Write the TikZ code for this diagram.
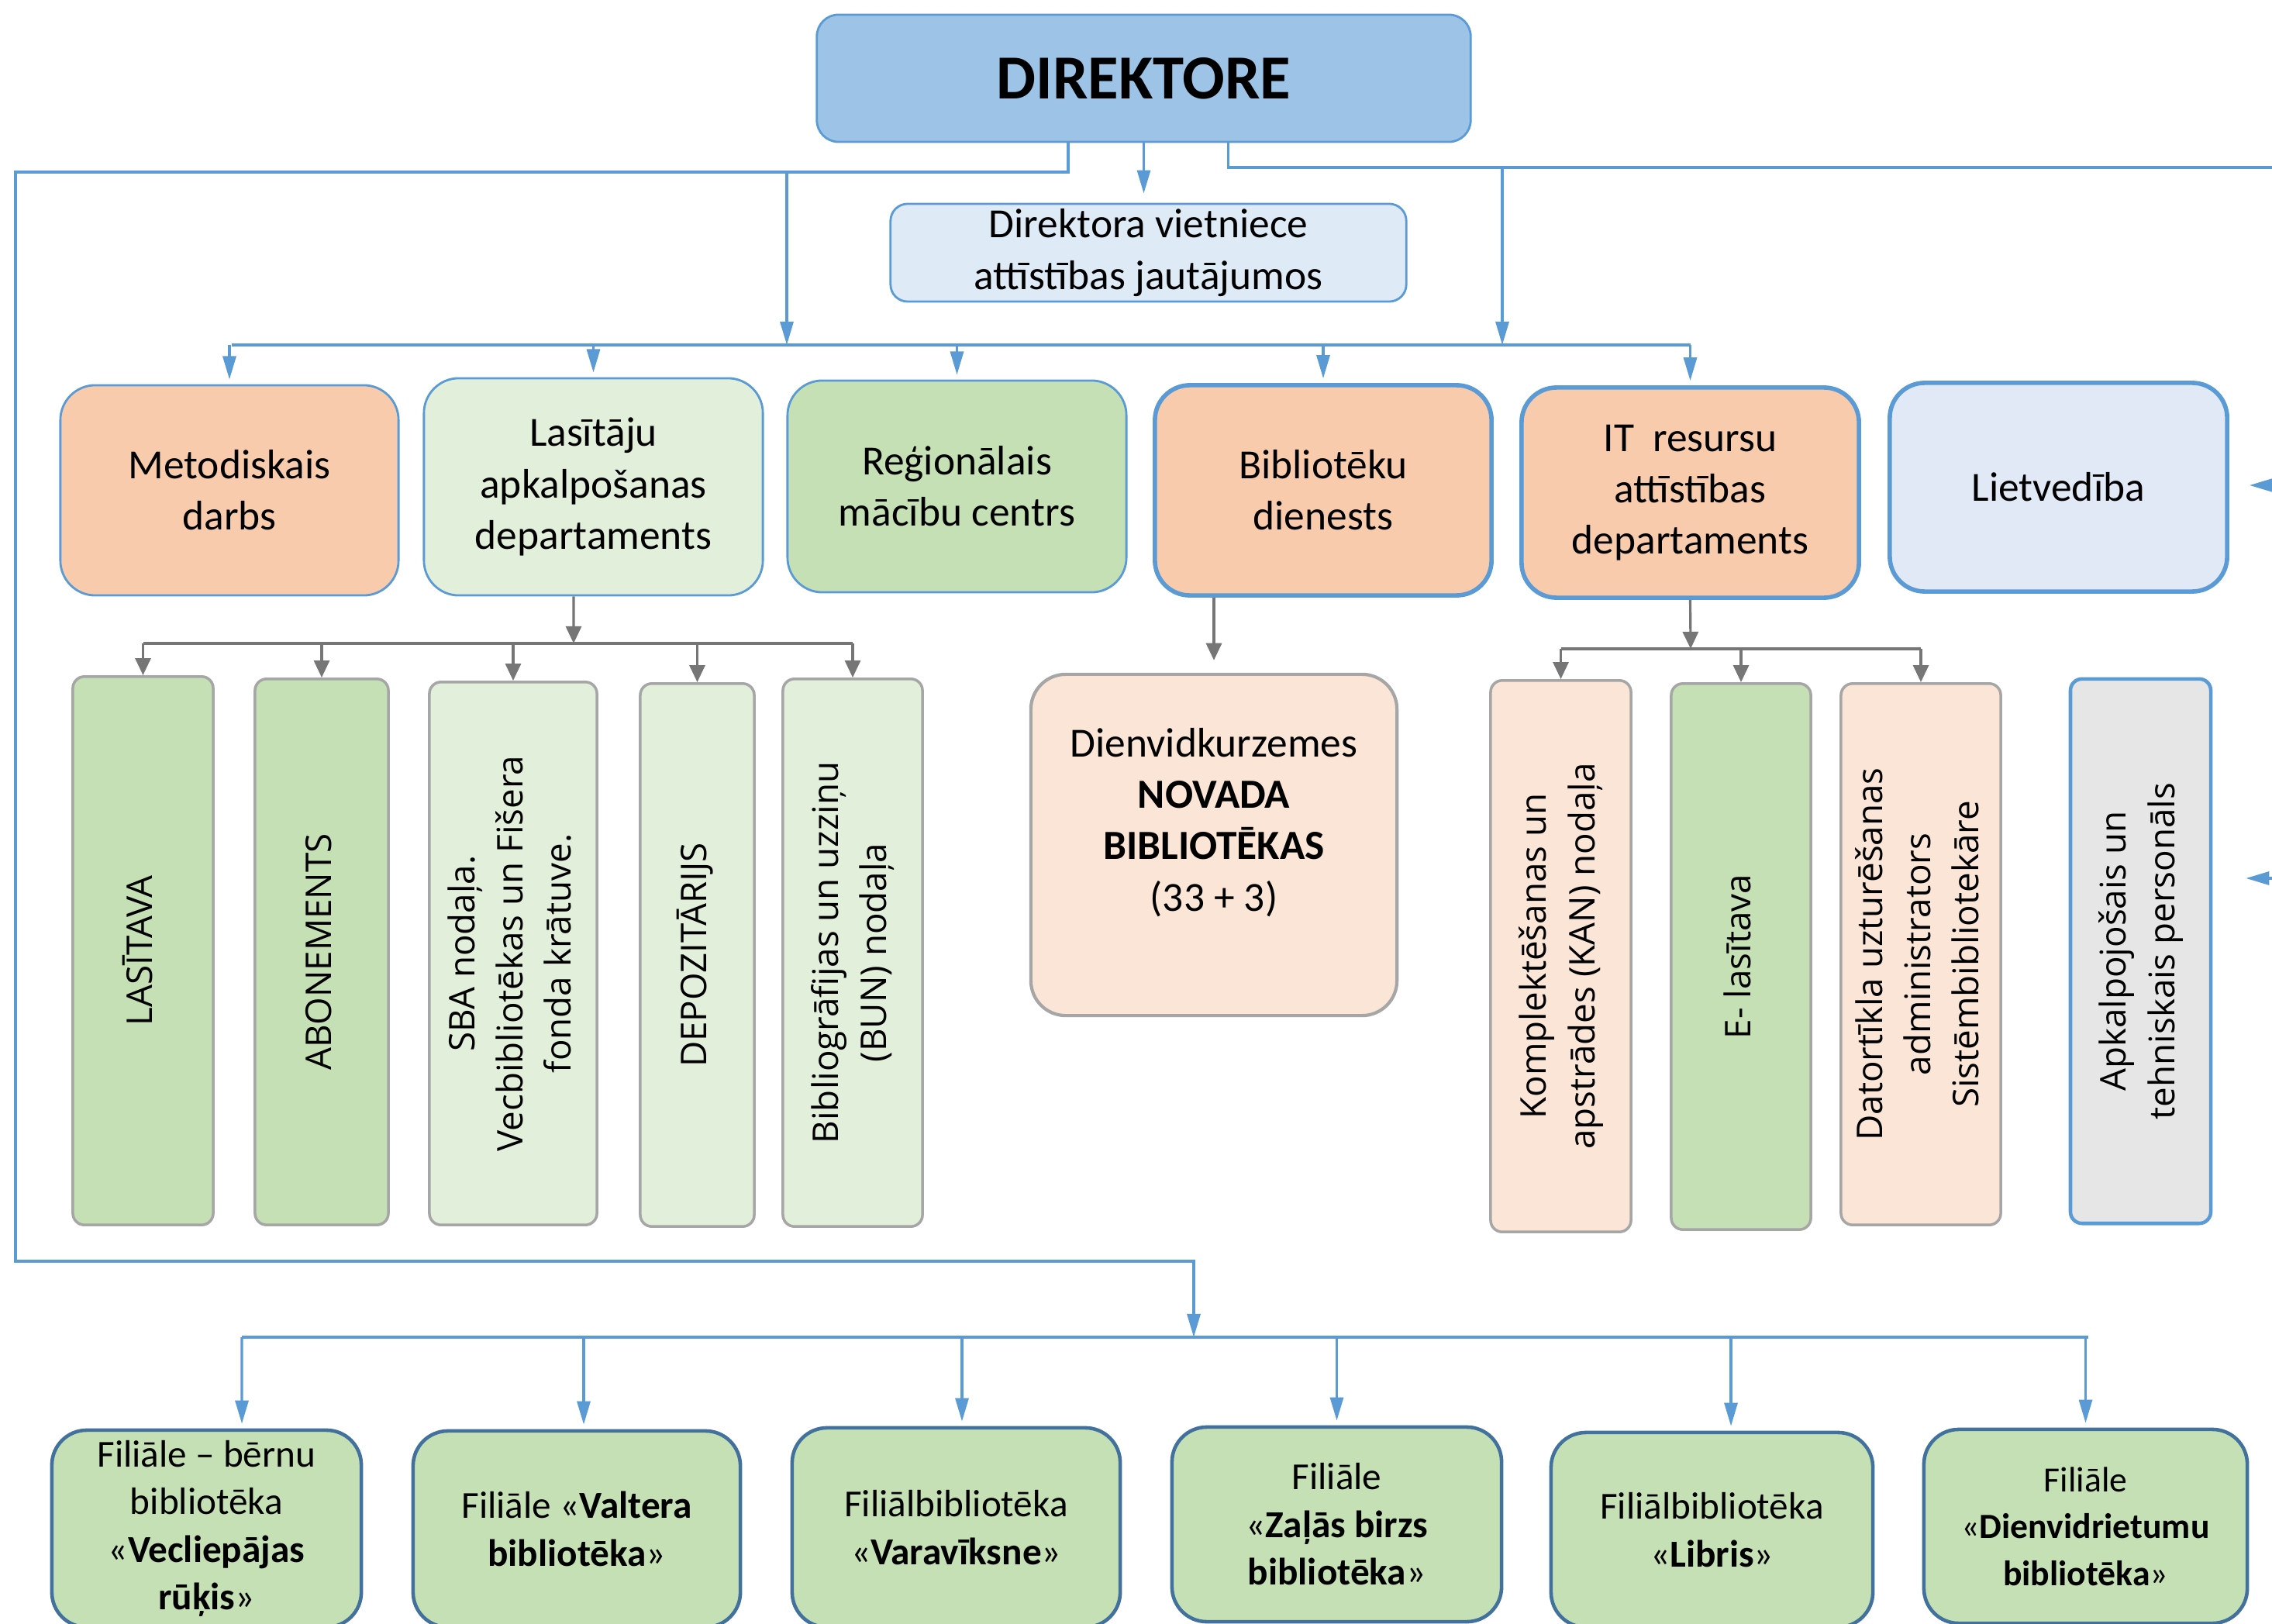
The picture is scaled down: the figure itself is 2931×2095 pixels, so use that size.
\documentclass[tikz,border=0pt]{standalone}
\usepackage{fontspec}
\setmainfont{Carlito}
\newfontfamily\osans{Open Sans}
\usepackage{graphicx}
\usetikzlibrary{arrows.meta}
\definecolor{lineblue}{HTML}{5B9BD5}
\definecolor{darkblue}{HTML}{41719C}
\definecolor{linegray}{HTML}{767676}
\definecolor{boxgray}{HTML}{A6A6A6}
\definecolor{dirfill}{HTML}{9DC3E6}
\definecolor{vicefill}{HTML}{DEEBF7}
\definecolor{salmon}{HTML}{F8CBAD}
\definecolor{peach}{HTML}{FBE5D6}
\definecolor{lgreen}{HTML}{E2EFDA}
\definecolor{mgreen}{HTML}{C5E0B4}
\definecolor{lavender}{HTML}{E2E9F6}
\definecolor{lgray}{HTML}{E6E6E6}
\newcommand\hfont{\fontsize{15.2}{18.8}\selectfont}
\newcommand\bfontsz{\fontsize{14}{17.5}\selectfont}
\newcommand\vt[1]{\rotatebox{90}{\osans\fontsize{13}{17.7}\selectfont\begin{tabular}{@{}c@{}}#1\end{tabular}}}
\tikzset{
  bl/.style={draw=lineblue, line width=0.9pt},
  blarrow/.style={bl, -{Triangle[length=0.3cm,width=0.17cm]}},
  gl/.style={draw=linegray, line width=0.9pt},
  glarrow/.style={gl, -{Triangle[length=0.22cm,width=0.2cm]}},
  hbox/.style={rounded corners=0.45cm, inner sep=0pt, align=center, font=\hfont, draw=lineblue, line width=0.8pt},
  thickbox/.style={hbox, line width=1.6pt},
  vbox/.style={rounded corners=0.15cm, inner sep=0pt, align=center, draw=boxgray, line width=1pt},
  fbox/.style={rounded corners=0.45cm, inner sep=0pt, align=center, font=\bfontsz, draw=darkblue, line width=1.3pt, fill=mgreen}
}
\begin{document}
\begin{tikzpicture}[x=0.01cm,y=-0.01cm]
\useasboundingbox (0,0) rectangle (2931,2095);
\fill[white] (0,0) rectangle (2931,2095);

% top
\node[hbox, rounded corners=0.28cm, fill=dirfill, minimum width=8.43cm, minimum height=1.64cm, font=\fontsize{23}{28}\selectfont\bfseries] (dir) at (1475.5,101) {DIREKTORE};
\node[hbox, rounded corners=0.22cm, fill=vicefill, minimum width=6.65cm, minimum height=1.26cm] (vice) at (1481.5,326) {Direktora vietniece\\attīstības jautājumos};

% row 2
\node[hbox, fill=salmon, minimum width=4.36cm, minimum height=2.71cm] (met) at (296,632.5) {Metodiskais\\darbs};
\node[hbox, fill=lgreen, minimum width=4.37cm, minimum height=2.80cm] (las) at (765.5,628) {Lasītāju\\apkalpošanas\\departaments};
\node[hbox, fill=mgreen, minimum width=4.37cm, minimum height=2.73cm] (reg) at (1234.5,627.5) {Reģionālais\\mācību centrs};
\node[thickbox, fill=salmon, minimum width=4.34cm, minimum height=2.71cm] (bib) at (1707,632.5) {Bibliotēku\\dienests};
\node[thickbox, fill=salmon, minimum width=4.35cm, minimum height=2.71cm] (itr) at (2180.5,635.5) {IT\ \ resursu\\attīstības\\departaments};
\node[thickbox, fill=lavender, minimum width=4.35cm, minimum height=2.69cm] (liet) at (2655.5,628.5) {Lietvedība};

% row 3 left
\node[vbox, fill=mgreen, minimum width=1.81cm, minimum height=7.07cm] (lasit) at (184.5,1226.5) {\vt{LASĪTAVA}};
\node[vbox, fill=mgreen, minimum width=1.72cm, minimum height=7.04cm] (abon) at (415,1228) {\vt{ABONEMENTS}};
\node[vbox, fill=lgreen, minimum width=2.16cm, minimum height=7.00cm] (sba) at (662,1230) {\vt{SBA nodaļa.\\Vecbibliotēkas un Fišera\\fonda krātuve.}};
\node[vbox, fill=lgreen, minimum width=1.47cm, minimum height=7.00cm] (depo) at (899.5,1232) {\vt{DEPOZITĀRIJS}};
\node[vbox, fill=lgreen, minimum width=1.80cm, minimum height=7.06cm] (bun) at (1100,1229) {\vt{Bibliogrāfijas un uzziņu\\(BUN) nodaļa}};

% Dienvidkurzemes
\node[vbox, rounded corners=0.45cm, line width=1.2pt, fill=peach, minimum width=4.72cm, minimum height=4.40cm] (dk) at (1566,1090) {};
\node[align=center, font=\hfont, inner sep=0pt] (dkt) at (1566,1061) {Dienvidkurzemes\\\textbf{NOVADA}\\\textbf{BIBLIOTĒKAS}\\(33 + 3)};

% row 3 right
\node[vbox, fill=peach, minimum width=1.81cm, minimum height=7.11cm] (kom) at (2013.5,1233.5) {\vt{Komplektēšanas un\\apstrādes (KAN) nodaļa}};
\node[vbox, fill=mgreen, minimum width=1.80cm, minimum height=7.04cm] (elas) at (2246,1234) {\vt{E- lasītava}};
\node[vbox, fill=peach, minimum width=2.06cm, minimum height=6.98cm] (dat) at (2478,1231) {\vt{Datortīkla uzturēšanas\\administrators\\Sistēmbibliotekāre}};
\node[vbox, draw=lineblue, line width=1.3pt, fill=lgray, minimum width=1.81cm, minimum height=7.02cm] (apk) at (2761.5,1227) {\vt{Apkalpojošais un\\tehniskais personāls}};

% bottom row
\node[fbox, minimum width=3.99cm, minimum height=2.54cm] (f1) at (266.5,1972) {Filiāle – bērnu\\bibliotēka\\«\textbf{Vecliepājas}\\\textbf{rūķis}»};
\node[fbox, minimum width=4.22cm, minimum height=2.53cm] (f2) at (744,1972.5) {Filiāle «\textbf{Valtera}\\\textbf{bibliotēka}»};
\node[fbox, minimum width=4.23cm, minimum height=2.57cm] (f3) at (1233.5,1970.5) {Filiālbibliotēka\\«\textbf{Varavīksne}»};
\node[fbox, minimum width=4.25cm, minimum height=2.51cm] (f4) at (1724.5,1966.5) {Filiāle\\«\textbf{Zaļās birzs}\\\textbf{bibliotēka}»};
\node[fbox, minimum width=4.15cm, minimum height=2.51cm] (f5) at (2208.5,1973.5) {Filiālbibliotēka\\«\textbf{Libris}»};
\node[fbox, minimum width=4.17cm, minimum height=2.50cm, font=\fontsize{13}{17.2}\selectfont] (f6) at (2690.5,1969) {Filiāle\\«\textbf{Dienvidrietumu}\\\textbf{bibliotēka}»};

% ---- connectors ----
\coordinate (cl1) at (20,222);
\coordinate (cl2) at (20,1627);
\coordinate (cl3) at (1540,1627);
\coordinate (bbus) at (1540,1725);
\coordinate (jA) at (1015,222);
\coordinate (tA) at (1015,445);
\coordinate (cr) at (2931,216);
\coordinate (jC) at (1938,216);
\coordinate (tC) at (1938,445);
\coordinate (r2l) at (299,445);
\coordinate (r2r) at (2181,445);
\coordinate (re1) at (2931,626);
\coordinate (re2) at (2931,1133);
\coordinate (g1) at (740,830);
\coordinate (g2) at (2181,837);
\coordinate (bl1) at (312,1725);
\coordinate (br1) at (2694,1725);

\draw[blarrow] ([xshift=-0.975cm]dir.south) |- (cl1) -- (cl2) -- (cl3) -- (bbus);
\draw[blarrow] (jA) -- (tA);
\draw[blarrow, shorten >=0.12cm] (dir.south) -- (dir.south |- vice.north);
\draw[bl] ([xshift=1.085cm]dir.south) |- (cr);
\draw[blarrow] (jC) -- (tC);

\draw[bl] (r2l) -- (r2r);
\foreach \n in {met,las,reg,bib,itr}
  \draw[blarrow, shorten >=0.06cm] (\n.north |- r2l) -- (\n.north);

\draw[blarrow, shorten >=0.26cm] (re1) -- (liet.east |- re1);
\draw[blarrow, shorten >=0.43cm] (re2) -- (apk.east |- re2);

% gray
\draw[glarrow] ([xshift=-0.255cm]las.south) -- (g1);
\draw[gl] (lasit.north |- g1) -- (bun.north |- g1);
\foreach \n in {lasit,abon,sba,depo,bun}
  \draw[glarrow] (\n.north |- g1) -- (\n.north);
\draw[glarrow, shorten >=0.16cm] (dk.north |- bib.south) -- (dk.north);
\draw[glarrow] (itr.south) -- (g2);
\draw[gl] (kom.north |- g2) -- (dat.north |- g2);
\foreach \n in {kom,elas,dat}
  \draw[glarrow] (\n.north |- g2) -- (\n.north);

% bottom
\draw[bl] (bl1) -- (br1);
\draw[blarrow, shorten >=0.06cm] (bl1) -- ([xshift=0.455cm]f1.north);
\draw[blarrow, shorten >=0.06cm] ([xshift=0.09cm]f2.north |- bbus) -- ([xshift=0.09cm]f2.north);
\draw[blarrow, shorten >=0.06cm] ([xshift=0.075cm]f3.north |- bbus) -- ([xshift=0.075cm]f3.north);
\draw[blarrow, shorten >=0.06cm] (f4.north |- bbus) -- (f4.north);
\draw[blarrow, shorten >=0.06cm] ([xshift=0.245cm]f5.north |- bbus) -- ([xshift=0.245cm]f5.north);
\draw[blarrow, shorten >=0.06cm] (f6.north |- bbus) -- (f6.north);
\end{tikzpicture}
\end{document}
